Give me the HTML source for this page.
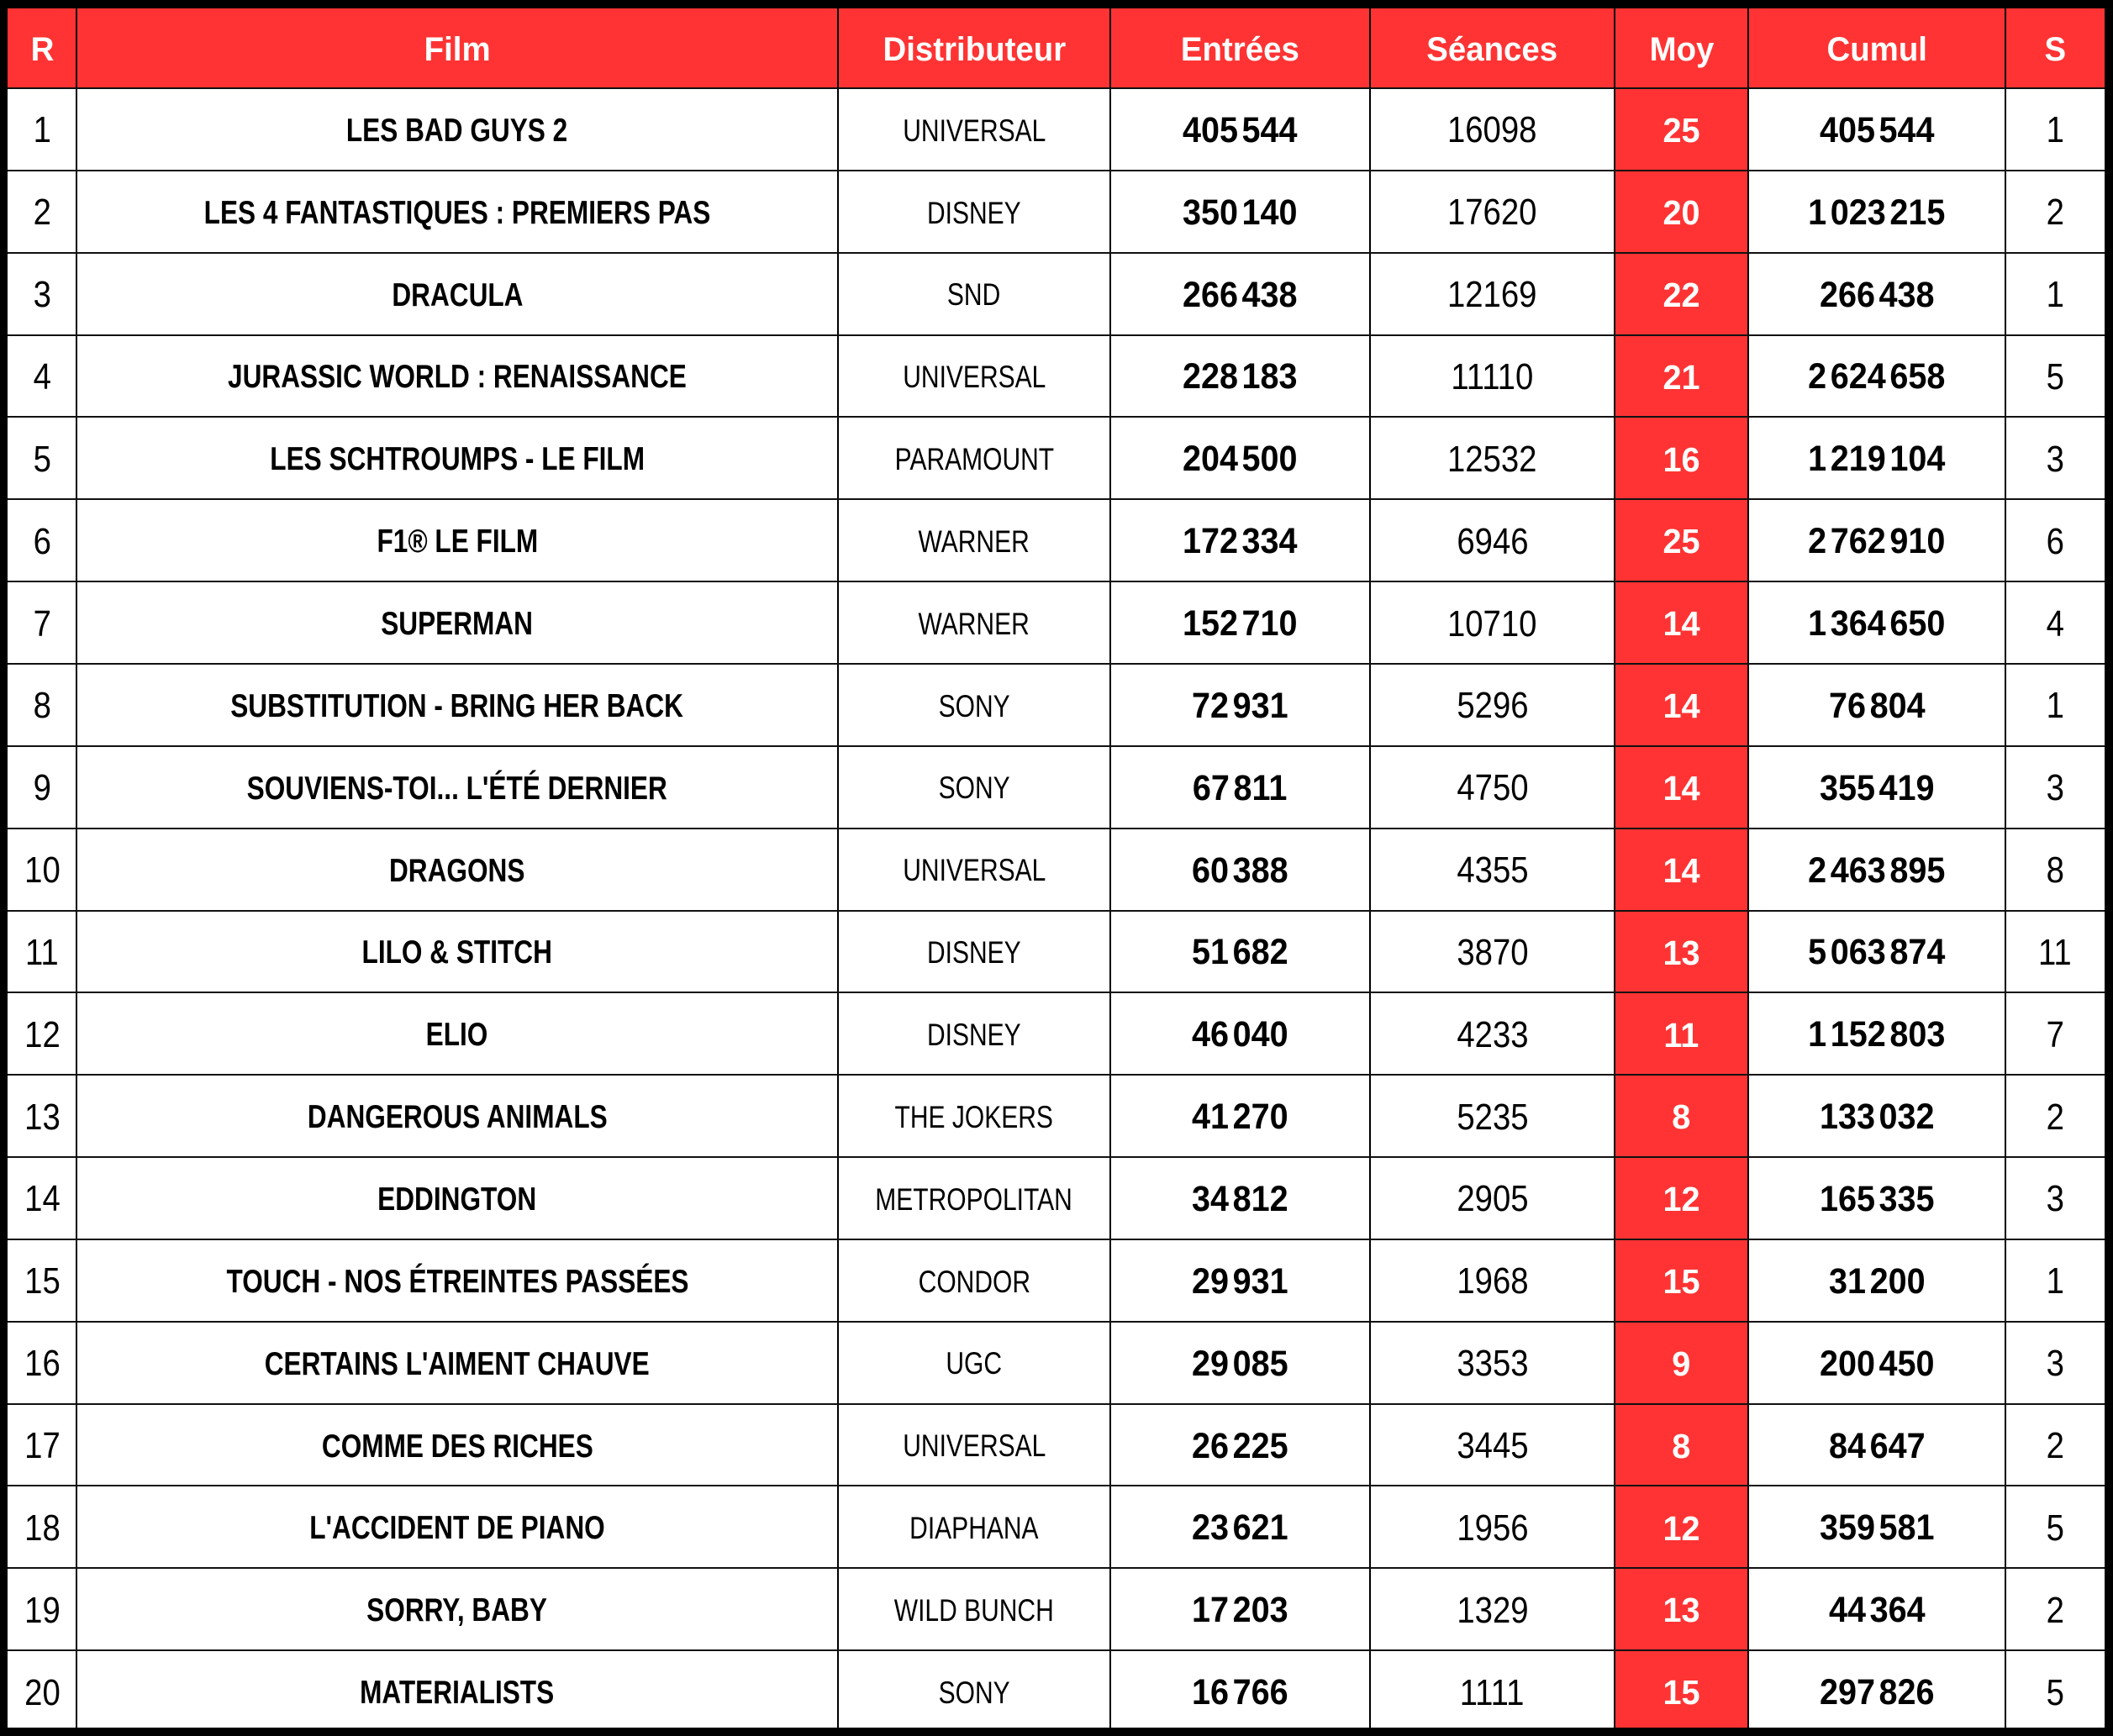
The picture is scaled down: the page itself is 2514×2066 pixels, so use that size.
<!DOCTYPE html>
<html>
<head>
<meta charset="utf-8">
<style>
html,body{margin:0;padding:0;}
body{width:2514px;height:2066px;background:#000;position:relative;overflow:hidden;font-family:"Liberation Sans",Arial,sans-serif;color:#000;}
.bg{position:absolute;left:9px;top:10px;width:2495px;height:2046px;background:#fff;}
.red{position:absolute;background:#ff3333;}
.vl{position:absolute;top:10px;height:2046px;width:2px;background:#000;}
.hl{position:absolute;left:9px;width:2495px;height:2px;background:#111;}
.fr{position:absolute;background:#000;}
.r{position:absolute;left:0;width:2514px;height:97.85px;line-height:1;}
.c{position:absolute;top:0;height:100%;display:flex;align-items:center;justify-content:center;white-space:nowrap;box-sizing:border-box;padding-top:3px;}
.c span{display:inline-block;}
.c i{display:inline-block;width:5px;}
.k1{left:9px;width:82px;}
.k2{left:91px;width:906px;}
.k3{left:997px;width:324px;}
.k4{left:1321px;width:309px;}
.k5{left:1630px;width:291px;}
.k6{left:1921px;width:159px;}
.k7{left:2080px;width:306px;}
.k8{left:2386px;width:118px;}
.k1 span,.k5 span,.k8 span{font-size:44px;font-weight:normal;transform:scaleX(.87);}
.k2 span{font-size:39px;font-weight:bold;transform:scaleX(.81);}
.k3 span{font-size:37.5px;font-weight:normal;transform:scaleX(.8);}
.k4 span,.k7 span{font-size:43px;font-weight:bold;transform:scaleX(.92);}
.k6 span{font-size:40.5px;font-weight:bold;color:#fff;transform:scaleX(.98);}
.h .c span{font-size:40px;font-weight:bold;color:#fff;transform:scaleX(.96);}
</style>
</head>
<body>
<div class="bg"></div>
<div class="red" style="left:9px;top:10px;width:2495px;height:95px;"></div>
<div class="red" style="left:1921px;top:105px;width:159px;height:1951px;"></div>

<div class="vl" style="left:90px"></div>
<div class="vl" style="left:996px"></div>
<div class="vl" style="left:1320px"></div>
<div class="vl" style="left:1629px"></div>
<div class="vl" style="left:1920px"></div>
<div class="vl" style="left:2079px"></div>
<div class="vl" style="left:2385px"></div>

<div class="hl" style="top:104px"></div>
<div class="hl" style="top:201.85px"></div>
<div class="hl" style="top:299.7px"></div>
<div class="hl" style="top:397.55px"></div>
<div class="hl" style="top:495.4px"></div>
<div class="hl" style="top:593.25px"></div>
<div class="hl" style="top:691.1px"></div>
<div class="hl" style="top:788.95px"></div>
<div class="hl" style="top:886.8px"></div>
<div class="hl" style="top:984.65px"></div>
<div class="hl" style="top:1082.5px"></div>
<div class="hl" style="top:1180.35px"></div>
<div class="hl" style="top:1278.2px"></div>
<div class="hl" style="top:1376.05px"></div>
<div class="hl" style="top:1473.9px"></div>
<div class="hl" style="top:1571.75px"></div>
<div class="hl" style="top:1669.6px"></div>
<div class="hl" style="top:1767.45px"></div>
<div class="hl" style="top:1865.3px"></div>
<div class="hl" style="top:1963.15px"></div>

<div class="r h" style="top:10px;height:95px;">
<div class="c k1"><span>R</span></div>
<div class="c k2"><span>Film</span></div>
<div class="c k3"><span>Distributeur</span></div>
<div class="c k4"><span>Entrées</span></div>
<div class="c k5"><span>Séances</span></div>
<div class="c k6"><span>Moy</span></div>
<div class="c k7"><span>Cumul</span></div>
<div class="c k8"><span>S</span></div>
</div>

<div class="r" style="top:105px">
<div class="c k1"><span>1</span></div>
<div class="c k2"><span>LES BAD GUYS 2</span></div>
<div class="c k3"><span>UNIVERSAL</span></div>
<div class="c k4"><span>405<i></i>544</span></div>
<div class="c k5"><span>16098</span></div>
<div class="c k6"><span>25</span></div>
<div class="c k7"><span>405<i></i>544</span></div>
<div class="c k8"><span>1</span></div>
</div>

<div class="r" style="top:202.85px">
<div class="c k1"><span>2</span></div>
<div class="c k2"><span>LES 4 FANTASTIQUES : PREMIERS PAS</span></div>
<div class="c k3"><span>DISNEY</span></div>
<div class="c k4"><span>350<i></i>140</span></div>
<div class="c k5"><span>17620</span></div>
<div class="c k6"><span>20</span></div>
<div class="c k7"><span>1<i></i>023<i></i>215</span></div>
<div class="c k8"><span>2</span></div>
</div>

<div class="r" style="top:300.7px">
<div class="c k1"><span>3</span></div>
<div class="c k2"><span>DRACULA</span></div>
<div class="c k3"><span>SND</span></div>
<div class="c k4"><span>266<i></i>438</span></div>
<div class="c k5"><span>12169</span></div>
<div class="c k6"><span>22</span></div>
<div class="c k7"><span>266<i></i>438</span></div>
<div class="c k8"><span>1</span></div>
</div>

<div class="r" style="top:398.55px">
<div class="c k1"><span>4</span></div>
<div class="c k2"><span>JURASSIC WORLD : RENAISSANCE</span></div>
<div class="c k3"><span>UNIVERSAL</span></div>
<div class="c k4"><span>228<i></i>183</span></div>
<div class="c k5"><span>11110</span></div>
<div class="c k6"><span>21</span></div>
<div class="c k7"><span>2<i></i>624<i></i>658</span></div>
<div class="c k8"><span>5</span></div>
</div>

<div class="r" style="top:496.4px">
<div class="c k1"><span>5</span></div>
<div class="c k2"><span>LES SCHTROUMPS - LE FILM</span></div>
<div class="c k3"><span>PARAMOUNT</span></div>
<div class="c k4"><span>204<i></i>500</span></div>
<div class="c k5"><span>12532</span></div>
<div class="c k6"><span>16</span></div>
<div class="c k7"><span>1<i></i>219<i></i>104</span></div>
<div class="c k8"><span>3</span></div>
</div>

<div class="r" style="top:594.25px">
<div class="c k1"><span>6</span></div>
<div class="c k2"><span>F1® LE FILM</span></div>
<div class="c k3"><span>WARNER</span></div>
<div class="c k4"><span>172<i></i>334</span></div>
<div class="c k5"><span>6946</span></div>
<div class="c k6"><span>25</span></div>
<div class="c k7"><span>2<i></i>762<i></i>910</span></div>
<div class="c k8"><span>6</span></div>
</div>

<div class="r" style="top:692.1px">
<div class="c k1"><span>7</span></div>
<div class="c k2"><span>SUPERMAN</span></div>
<div class="c k3"><span>WARNER</span></div>
<div class="c k4"><span>152<i></i>710</span></div>
<div class="c k5"><span>10710</span></div>
<div class="c k6"><span>14</span></div>
<div class="c k7"><span>1<i></i>364<i></i>650</span></div>
<div class="c k8"><span>4</span></div>
</div>

<div class="r" style="top:789.95px">
<div class="c k1"><span>8</span></div>
<div class="c k2"><span>SUBSTITUTION - BRING HER BACK</span></div>
<div class="c k3"><span>SONY</span></div>
<div class="c k4"><span>72<i></i>931</span></div>
<div class="c k5"><span>5296</span></div>
<div class="c k6"><span>14</span></div>
<div class="c k7"><span>76<i></i>804</span></div>
<div class="c k8"><span>1</span></div>
</div>

<div class="r" style="top:887.8px">
<div class="c k1"><span>9</span></div>
<div class="c k2"><span>SOUVIENS-TOI... L'ÉTÉ DERNIER</span></div>
<div class="c k3"><span>SONY</span></div>
<div class="c k4"><span>67<i></i>811</span></div>
<div class="c k5"><span>4750</span></div>
<div class="c k6"><span>14</span></div>
<div class="c k7"><span>355<i></i>419</span></div>
<div class="c k8"><span>3</span></div>
</div>

<div class="r" style="top:985.65px">
<div class="c k1"><span>10</span></div>
<div class="c k2"><span>DRAGONS</span></div>
<div class="c k3"><span>UNIVERSAL</span></div>
<div class="c k4"><span>60<i></i>388</span></div>
<div class="c k5"><span>4355</span></div>
<div class="c k6"><span>14</span></div>
<div class="c k7"><span>2<i></i>463<i></i>895</span></div>
<div class="c k8"><span>8</span></div>
</div>

<div class="r" style="top:1083.5px">
<div class="c k1"><span>11</span></div>
<div class="c k2"><span>LILO &amp; STITCH</span></div>
<div class="c k3"><span>DISNEY</span></div>
<div class="c k4"><span>51<i></i>682</span></div>
<div class="c k5"><span>3870</span></div>
<div class="c k6"><span>13</span></div>
<div class="c k7"><span>5<i></i>063<i></i>874</span></div>
<div class="c k8"><span>11</span></div>
</div>

<div class="r" style="top:1181.35px">
<div class="c k1"><span>12</span></div>
<div class="c k2"><span>ELIO</span></div>
<div class="c k3"><span>DISNEY</span></div>
<div class="c k4"><span>46<i></i>040</span></div>
<div class="c k5"><span>4233</span></div>
<div class="c k6"><span>11</span></div>
<div class="c k7"><span>1<i></i>152<i></i>803</span></div>
<div class="c k8"><span>7</span></div>
</div>

<div class="r" style="top:1279.2px">
<div class="c k1"><span>13</span></div>
<div class="c k2"><span>DANGEROUS ANIMALS</span></div>
<div class="c k3"><span>THE JOKERS</span></div>
<div class="c k4"><span>41<i></i>270</span></div>
<div class="c k5"><span>5235</span></div>
<div class="c k6"><span>8</span></div>
<div class="c k7"><span>133<i></i>032</span></div>
<div class="c k8"><span>2</span></div>
</div>

<div class="r" style="top:1377.05px">
<div class="c k1"><span>14</span></div>
<div class="c k2"><span>EDDINGTON</span></div>
<div class="c k3"><span>METROPOLITAN</span></div>
<div class="c k4"><span>34<i></i>812</span></div>
<div class="c k5"><span>2905</span></div>
<div class="c k6"><span>12</span></div>
<div class="c k7"><span>165<i></i>335</span></div>
<div class="c k8"><span>3</span></div>
</div>

<div class="r" style="top:1474.9px">
<div class="c k1"><span>15</span></div>
<div class="c k2"><span>TOUCH - NOS ÉTREINTES PASSÉES</span></div>
<div class="c k3"><span>CONDOR</span></div>
<div class="c k4"><span>29<i></i>931</span></div>
<div class="c k5"><span>1968</span></div>
<div class="c k6"><span>15</span></div>
<div class="c k7"><span>31<i></i>200</span></div>
<div class="c k8"><span>1</span></div>
</div>

<div class="r" style="top:1572.75px">
<div class="c k1"><span>16</span></div>
<div class="c k2"><span>CERTAINS L'AIMENT CHAUVE</span></div>
<div class="c k3"><span>UGC</span></div>
<div class="c k4"><span>29<i></i>085</span></div>
<div class="c k5"><span>3353</span></div>
<div class="c k6"><span>9</span></div>
<div class="c k7"><span>200<i></i>450</span></div>
<div class="c k8"><span>3</span></div>
</div>

<div class="r" style="top:1670.6px">
<div class="c k1"><span>17</span></div>
<div class="c k2"><span>COMME DES RICHES</span></div>
<div class="c k3"><span>UNIVERSAL</span></div>
<div class="c k4"><span>26<i></i>225</span></div>
<div class="c k5"><span>3445</span></div>
<div class="c k6"><span>8</span></div>
<div class="c k7"><span>84<i></i>647</span></div>
<div class="c k8"><span>2</span></div>
</div>

<div class="r" style="top:1768.45px">
<div class="c k1"><span>18</span></div>
<div class="c k2"><span>L'ACCIDENT DE PIANO</span></div>
<div class="c k3"><span>DIAPHANA</span></div>
<div class="c k4"><span>23<i></i>621</span></div>
<div class="c k5"><span>1956</span></div>
<div class="c k6"><span>12</span></div>
<div class="c k7"><span>359<i></i>581</span></div>
<div class="c k8"><span>5</span></div>
</div>

<div class="r" style="top:1866.3px">
<div class="c k1"><span>19</span></div>
<div class="c k2"><span>SORRY, BABY</span></div>
<div class="c k3"><span>WILD BUNCH</span></div>
<div class="c k4"><span>17<i></i>203</span></div>
<div class="c k5"><span>1329</span></div>
<div class="c k6"><span>13</span></div>
<div class="c k7"><span>44<i></i>364</span></div>
<div class="c k8"><span>2</span></div>
</div>

<div class="r" style="top:1964.15px">
<div class="c k1"><span>20</span></div>
<div class="c k2"><span>MATERIALISTS</span></div>
<div class="c k3"><span>SONY</span></div>
<div class="c k4"><span>16<i></i>766</span></div>
<div class="c k5"><span>1111</span></div>
<div class="c k6"><span>15</span></div>
<div class="c k7"><span>297<i></i>826</span></div>
<div class="c k8"><span>5</span></div>
</div>

<div class="fr" style="left:0;top:0;width:2514px;height:10px;"></div>
<div class="fr" style="left:0;top:2056px;width:2514px;height:10px;"></div>
<div class="fr" style="left:0;top:0;width:9px;height:2066px;"></div>
<div class="fr" style="left:2504px;top:0;width:10px;height:2066px;"></div>
</body>
</html>
